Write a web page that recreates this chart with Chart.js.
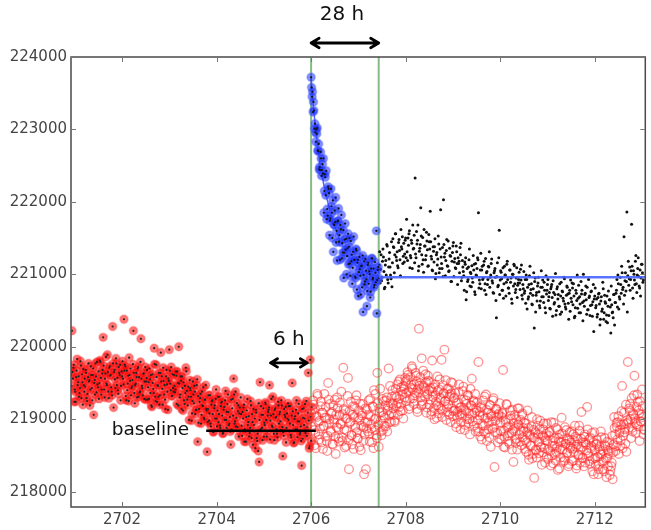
<!DOCTYPE html>
<html>
<head>
<meta charset="utf-8">
<script src="https://cdn.jsdelivr.net/npm/chart.js@4/dist/chart.umd.min.js"></script>
<style>
html,body{margin:0;padding:0;background:#fff;}
canvas{display:block;}
</style>
</head>
<body>
<canvas id="c" width="651" height="530"></canvas>
<script>
// ---------- data ----------
const sampleStep = 0.02;               // days between samples in each run
const xTicks = [2702, 2704, 2706, 2708, 2710, 2712];
const yTicks = [218000, 219000, 220000, 221000, 222000, 223000, 224000];
const xRange = [2700.92, 2713.07];
const yRange = [217788, 224000];

// red filled circles (before the event) — two interleaved sample runs
const redPreStart = 2700.92;
const redPreValues = [
219620,220220,219560,219750,219410,219240,219670,219470,219590,219360,
219800,219290,219510,219690,219380,219450,219640,219250,219580,219520,
219190,219730,219430,219610,219060,219540,219770,219370,219480,219660,
219500,219790,219340,219630,220130,219410,219560,219860,219470,219650,
219290,219730,219610,219380,220280,219160,219680,219430,219770,219570,
219350,219640,219750,219460,219590,
219560,220380,219750,219320,219670,219490,219250,219610,219700,219430,
219540,220220,219360,219470,219640,219300,219720,219580,219380,220110,
219460,219330,219630,219520,219270,
219570,219270,219510,219700,219360,219190,219620,219420,219980,219310,
219750,219240,219460,219640,219330,219920,219590,219200,219530,219470,
219140,219680,219380,219560,219960,219490,219720,219320,219430,219610,
219370,219660,219210,219500,220000,
219300,219590,219140,219430,219510,219210,219360,219660,219270,219450,
218990,219430,219310,219080,219520,219220,219380,219130,219470,218690,
218950,219240,219350,219060,219190,219440,219000,219270,219140,218550,
219140,218980,219330,218900,219250,219070,218830,219190,219280,219010,
219120,218960,219310,218880,219230,219050,218810,219170,219260,218990,
219100,219340,218920,219030,218650,218860,219280,219560,218940,219380,
219020,218890,219190,219080,218830,
219070,218770,219010,219200,218860,218690,219120,218920,219040,218810,
219250,218740,218960,219140,218830,218600,219090,218700,218560,218410,
219510,219180,218880,219060,218760,
218920,219210,218760,219050,219130,219470,218980,219280,218890,219070,
218710,219150,219030,218800,219240,218940,219100,218850,219190,218490,
218770,219060,219170,218880,219010,
218990,218830,219180,218750,219500,218920,218680,219040,219130,218860,
218970,219210,218790,218900,218360,218730,219150,219010,218810,219250,
218890,219640,218600,219820,218700
];
const redPreStartB = 2700.93;
const redPreValuesB = [
219460,219650,219710,219240,219380,219580,219830,219510,219310,219430,
219740,219620,219200,219470,219560,219680,219290,219350,219770,219540,
219410,219610,219260,219700,219500,219340,219590,219790,219440,219280,
219810,219570,219410,219680,219740,219300,219630,219490,219890,219380,
219710,219600,219440,219330,219770,219650,219550,219840,219470,219400,
219720,219610,219260,219660,219800,
219480,219670,219730,219260,219400,219600,219850,219530,219330,219450,
219760,219640,219220,219490,219580,219700,219310,219370,219790,219560,
219430,219630,219280,219720,219520,
219680,219440,219280,219550,219610,219170,219500,219360,219760,219250,
219580,219470,219310,219200,219640,219520,219420,219710,219340,219270,
219590,219480,219130,219530,219670,219400,219320,219620,219380,219460,
219410,219600,219660,219190,219490,
219340,219530,219590,219120,219260,219460,219710,219390,219190,219310,
219540,219400,218980,219250,219340,219460,219070,219130,219550,219320,
219140,219290,218940,219380,219180,219020,219270,219470,219120,218960,
219330,219080,218940,219200,219260,218820,219150,219010,219410,218900,
219310,219070,218910,219180,219240,218800,219130,218990,219390,218880,
219210,219100,218940,218830,219270,219150,219050,219340,218970,218900,
219220,219110,218760,219160,219300,
218910,219100,219160,218690,218830,219030,219280,218960,218760,218880,
219190,219070,218650,218920,219010,219130,218740,218800,219220,218990,
218860,219060,218710,219150,218950,
219230,218990,218830,219100,219160,218720,219050,218910,219310,218800,
219130,219020,218860,218750,219190,219070,218970,219260,218890,218820,
219140,219030,218680,219080,219220,
219180,218940,218780,219050,219110,218670,219000,218860,219260,218750,
219080,218970,218810,218700,219140,219020,218920,219210,218840,218770,
219090,218980,218630,219030,219170
];

// blue circles (28 h after the event)
const blueStart = 2706.00;
const blueValues = [
223720,223450,223240,223260,223080,222830,222940,222710,222800,222480,
222690,222360,222520,222600,222150,222340,222430,221900,222210,222120,
221740,222180,221850,222020,221690,221880,222060,221600,221730,221910,
221540,221680,221820,221430,221610,221300,221700,221490,221250,221560,
221380,221150,221460,221270,221090,221520,221200,220950,221330,221160,
220700,221240,220980,221110,220820,220480,221180,220900,221050,220560,
221130,220870,221000,220760,221220,220930,221080,220850,221020,221600,
220920,221100
];
const blueStartB = 2706.01;
const blueValuesB = [
223580,223520,223380,223010,222960,223000,223020,222700,222450,222440,
222600,222440,222390,221850,222380,222090,221760,221810,222180,221540,
221770,221940,221500,221310,221680,221720,221440,221190,221740,221450,
221200,221620,221220,221300,220950,221480,221340,221000,221360,221140,
221500,220980,221180,220870,221310,221200,220970,221350,220790,221200,
221030,221070,220720,221120,221260,220990,220860,221210,220930,220770,
221160,221040,220680,221080,221220,220950,220820,221170,220890,220460,
221060,220950
];

// black dots (after the 28 h window)
const blackStart = 2707.44;
const blackValues = [
221130,220880,221270,220960,221350,221040,220820,221190,221410,220930,
221100,221300,220990,221450,221160,221380,221020,221560,221240,221310,
221090,221480,221200,221620,221350,221150,221430,221280,221500,221760,
221190,221400,221600,221260,221470,221080,221350,221540,222330,221230,
221420,221680,221110,221360,221920,221270,221510,221030,221390,221200,
221580,221340,221120,221450,221870,221250,221060,221380,221170,221490,
221010,221300,221210,221420,221080,221890,221150,221370,222030,221240,
220980,221330,221120,221460,221050,221260,220900,221180,221390,220970,
221220,221080,221310,220860,221150,221020,221270,220910,221190,221040,
220780,221140,220650,221080,220930,221200,220840,221010,221120,220890,
221060,220760,221150,220980,221230,221850,220920,221060,220800,221110,
220950,221180,220870,220720,221040,220930,221100,220820,220990,221210,
220880,220740,221050,220960,220400,221160,220850,221610,220920,221030,
220780,221090,220870,220990,220700,221140,220930,220810,221060,220890,
220660,221000,220840,221120,220750,220950,220680,220880,221030,220790,
220920,220710,220860,221040,220770,220600,220930,220820,220690,220980,
220740,220870,220580,220800,220260,220950,220710,220630,220880,220760,
220540,220820,220690,220920,220610,220780,220470,220730,220860,220640,
220750,220520,220830,220680,220910,220590,220720,220440,220800,220660,
220560,220870,220700,220480,220760,220630,220940,220550,220710,220820,
220600,220740,220490,220670,220880,220580,220700,220420,220780,220640,
220530,220850,220690,220470,220730,220610,221000,220560,220740,220650,
220820,220510,220680,220430,220760,220580,220620,220210,220700,220540,
220660,220450,220730,220590,220380,220690,220520,220800,220470,220620,
220350,220700,220560,220430,220650,220190,220580,220480,220720,220300,
220610,220780,220550,220870,220690,220960,220740,221020,220820,221520,
220910,220770,221860,220980,220850,221100,220930,221690,220810,221050,
220920,221180,220870,220990,221230,220840,221060,220950,221140,220890
];
const blackStartB = 2707.45;
const blackValuesB = [
221310,221070,220910,221180,221240,220800,221130,220990,221390,220880,
221210,221100,220940,220830,
221490,221370,221270,221560,221190,221120,221440,221330,220980,221380,
221520,221250,221170,221470,221230,
221310,221500,221560,221090,221230,221430,221680,221360,221160,221280,
221590,221470,221050,221320,221410,221530,221140,221200,221620,221390,
221260,221460,221110,221550,221350,
221450,221210,221050,221320,221380,220940,221270,221130,221530,221020,
221350,221240,221080,220970,221410,221290,221190,221480,221110,221040,
221360,221250,220900,221300,221440,221170,221090,221390,221150,221230,
221180,221370,221430,220960,221100,
220980,221170,221230,220760,220900,221100,221350,221030,220830,220950,
221260,221140,220720,220990,221080,221200,220810,220870,221290,221060,
220930,221130,220780,221220,221020,220860,221110,221310,220960,
221150,220910,220750,221020,221080,220640,220970,220830,221230,220720,
221050,220940,220780,220670,221110,220990,220890,221180,220810,220740,
221060,220950,220600,221000,221140,220870,220790,221090,220850,220930,
220880,221070,221130,220660,220800,
220740,220930,220990,220520,220660,220860,221110,220790,220590,220710,
221020,220900,220480,220750,220840,220960,220570,220630,221050,220820,
220690,220890,220540,220980,220780,
220930,220690,220530,220800,220860,220420,220750,220610,221010,220500,
220830,220720,220560,220450,220890,220770,220670,220960,220590,220520,
220840,220730,220380,220780,220920,
220620,220810,220870,220400,220540,220740,220990,220670,220470,220590,
220900,220780,220360,220630,220720,220840,220450,220510,220930,220700,
220570,220770,220420,220860,220660,
220810,220570,220410,220680,220740,220300,220630,220490,220890,220380,
220710,220600,220440,220330,220770,220650,220550,220840,220470,220400,
220720,220610,
220740,220930,220990,220520,220660,220860,221110,220790,220590,220710,
221020,220900,220480,
221180,220940,220780,221050,221110,220670,221000,220860,221260,220750,
221080,220970,220810,220700,221140,221020,220920
];

// red hollow circles (after the event)
const redPostStart = 2706.00;
const redPostValues = [
219080,218720,219260,218850,219140,218600,219030,219320,218790,218980,
219180,218680,219090,218900,219350,218760,219020,218560,219500,218940,
219210,218820,219100,218650,219000,219270,218520,218890,219150,218740,
219060,218930,219380,218700,219710,218860,219120,218630,219010,219570,
218310,218950,219240,218780,219060,218590,219170,218880,219330,218740,
219020,218620,219210,218910,219080,218700,218240,218960,218310,219130,
218830,219260,218690,219040,218870,219180,218600,219000,219350,218780,
219640,218920,219150,219420,218830,
219100,218850,219250,219020,218900,219300,219120,219700,218960,219220,
219080,219400,219150,218980,219330,219190,219480,219060,219280,219550,
219210,219380,219120,219460,219300,
219520,219250,219650,219380,219180,219580,219430,219700,219290,219480,
219360,219600,219140,219420,220250,219500,219300,219840,219210,219460,
219380,219620,219090,219340,219530,
219200,219430,219060,219810,219310,219150,219480,219240,219020,219390,
219170,219550,219280,219820,219120,219360,219960,219250,218990,219420,
219200,219060,219340,219510,219150,
219040,219290,219120,218940,219220,219100,219380,219060,218860,219170,
219050,219450,219130,218920,219260,219000,219330,219080,218790,219190,
219560,218970,219240,219090,218830,
219120,218880,219790,219050,218760,219180,218920,219260,218830,219010,
219340,218700,219090,218950,219200,218620,219040,218870,219290,218340,
218980,219140,218810,219060,218730,
218950,218720,219080,219680,218840,218610,218990,219200,218770,218900,
218660,219050,218810,219130,218410,218870,218720,219000,218580,218930,
219150,218690,218840,219060,218750,
218830,218590,218940,218680,219120,218510,218790,218640,218900,218460,
218750,218190,218820,218570,219000,218690,218530,218860,218620,218370,
218770,218940,218600,218710,218480,
218700,218450,218820,218560,218960,218630,218390,218740,218520,218880,
218610,218300,218690,218790,218470,219020,218580,218720,218430,218660,
218850,218540,218350,218710,218600,
218680,218420,218790,218550,218910,218620,218360,218730,218500,218840,
218590,219100,218470,218680,218760,218400,218650,219170,218530,218720,
218380,218600,218810,218450,218240,
218580,218370,218660,218480,218310,218620,218520,218750,218410,218560,
218280,218640,218460,218690,218350,218530,218230,218600,218400,218170,
218650,218880,218560,218950,218720,219040,218810,218630,218920,219460,
218770,219090,218860,219200,218940,
219790,218880,219120,219000,219290,218830,219060,219600,218950,219170,
219340,218900,219080,219250,218970,219410,219030,218860
];
const redPostStartB = 2706.01;
const redPostValuesB = [
218900,219130,219200,218640,218810,219050,219350,218960,218720,218870,
219240,219090,218590,218910,219020,219170,218700,218770,219270,219000,
218840,219080,218660,219190,218950,218760,219060,219300,218880,218690,
219230,218940,218750,219070,219140,218610,219010,218840,219320,218710,
219110,218970,218780,218650,219180,219030,218910,219260,218820,218730,
219120,218990,218570,219050,219210,218890,218790,219150,218870,218960,
219060,218800,219280,218930,218680,219170,219400,218850,219010,218740,
219220,218620,219090,218980,218780,
219280,219050,218910,219190,219260,218830,219180,219050,219460,218960,
219310,219210,219060,218960,219420,219310,219220,219520,219170,219110,
219440,219340,219010,219420,219570,
219360,219550,219610,219140,219280,219480,219730,219410,219210,219330,
219640,219520,219100,219370,219460,219580,219190,219250,219670,219440,
219310,219510,219160,219600,219400,
219510,219270,219110,219380,219440,219000,219330,219190,219590,219080,
219410,219300,219140,219030,219470,219350,219250,219540,219170,219100,
219420,219310,218960,219360,219500,
219110,219300,219360,218890,219030,219230,219480,219160,218960,219080,
219390,219270,218850,219120,219210,219330,218940,219000,219420,219190,
219060,219260,218910,219350,219150,
219230,218990,218830,219100,219160,218720,219050,218910,219310,218800,
219130,219020,218860,218750,219190,219070,218970,219260,218890,218820,
219140,219030,218680,219080,219220,
218840,219030,219090,218620,218760,218960,219210,218890,218690,218810,
219120,219000,218580,218850,218940,219060,218670,218730,219150,218920,
218790,218990,218640,219080,218880,
218950,218710,218550,218820,218880,218440,218770,218630,219030,218520,
218850,218740,218580,218470,218910,218790,218690,218980,218610,218540,
218860,218750,218400,218800,218940,
218580,218770,218830,218360,218500,218700,218950,218630,218430,218550,
218860,218740,218320,218590,218680,218800,218410,218470,218890,218660,
218530,218730,218380,218820,218620,
218830,218590,218430,218700,218760,218320,218650,218510,218910,218400,
218730,218620,218460,218350,218790,218670,218570,218860,218490,218420,
218740,218630,218280,218680,218820,
218460,218650,218710,218240,218380,218580,218830,218510,218310,218430,
218740,218620,218200,218470,218560,218680,218290,218350,218770,218540,
219030,218790,218630,218900,218960,218520,218850,218710,219110,218600,
218930,218820,218660,218550,218990,
218960,219150,219210,218740,218880,219080,219330,219010,218810,218930,
219240,219120,218700,218970,219060,219180,218790,218850
];

// exponential-recovery fit drawn under the blue points
const fitDays   = [2706.00, 2706.05, 2706.10, 2706.20, 2706.30, 2706.45, 2706.60, 2706.80, 2707.05, 2707.43];
const fitValues = [223700, 223300, 222980, 222470, 222130, 221760, 221480, 221230, 221060, 220980];

// reference lines / annotations
const eventDays = [2706.00, 2707.43];        // green vertical lines
const recoveredLevel = 220960;               // blue horizontal line
const recoveredSpan = [2707.43, 2713.10];
const baselineValue = 218840;                // black baseline
const baselineSpan = [2703.78, 2706.10];
const label28h = "28 h";
const label6h = "6 h";
const labelBaseline = "baseline";
const sixHourSpan = [2705.14, 2705.92];
const sixHourArrowValue = 219777;
const sixHourTextValue = 220096;
const baselineTextDay = 2703.42;

// ---------- build ----------
function series(start, vals){
  return vals.map((v,i)=>({x: +(start + i*sampleStep).toFixed(3), y: v}));
}
const redPre = series(redPreStart, redPreValues).concat(series(redPreStartB, redPreValuesB));
const blue = series(blueStart, blueValues).concat(series(blueStartB, blueValuesB));
const black = series(blackStart, blackValues).concat(series(blackStartB, blackValuesB));
const redPost = series(redPostStart, redPostValues).concat(series(redPostStartB, redPostValuesB));
const fit = fitDays.map((d,i)=>({x:d, y:fitValues[i]}));

function lineDS(data, color, width){
  return {data, showLine:true, borderColor:color, borderWidth:width, pointRadius:0, fill:false, tension:0};
}
function ptsDS(data, r, bg, bc, bw){
  return {data, showLine:false, pointRadius:r, pointHoverRadius:r, backgroundColor:bg, borderColor:bc, borderWidth:bw};
}

const datasets = [
  lineDS([{x:baselineSpan[0],y:baselineValue},{x:baselineSpan[1],y:baselineValue}], '#000', 2.5),
  lineDS([{x:recoveredSpan[0],y:recoveredLevel},{x:recoveredSpan[1],y:recoveredLevel}], 'rgba(70,100,255,0.9)', 2.5),
  ptsDS(blue, 1.1, '#111', '#111', 0),
  ptsDS(blue, 4.2, 'rgba(25,45,255,0.55)', 'rgba(90,110,255,0.3)', 1.5),
  lineDS(fit, 'rgba(60,80,255,0.9)', 1.5),
  ptsDS(black, 1.5, '#111', '#111', 0),
  ptsDS(redPost, 4.3, 'rgba(0,0,0,0)', 'rgba(255,40,40,0.5)', 1.3),
  ptsDS(redPre, 1.1, '#222', '#222', 0),
  ptsDS(redPre, 4.2, 'rgba(255,0,0,0.55)', 'rgba(255,80,80,0.3)', 1.5),
  lineDS([{x:eventDays[0],y:yRange[0]},{x:eventDays[0],y:yRange[1]}], 'rgba(120,180,120,0.9)', 2),
  lineDS([{x:eventDays[1],y:yRange[0]},{x:eventDays[1],y:yRange[1]}], 'rgba(120,180,120,0.9)', 2)
];

function arrow(ctx, x1, x2, y, lw, head){
  ctx.save();
  ctx.strokeStyle = '#000';
  ctx.lineWidth = lw;
  ctx.lineCap = 'round';
  ctx.lineJoin = 'round';
  ctx.beginPath();
  ctx.moveTo(x1, y); ctx.lineTo(x2, y);
  ctx.moveTo(x1 + head, y - head*0.6); ctx.lineTo(x1, y); ctx.lineTo(x1 + head, y + head*0.6);
  ctx.moveTo(x2 - head, y - head*0.6); ctx.lineTo(x2, y); ctx.lineTo(x2 - head, y + head*0.6);
  ctx.stroke();
  ctx.restore();
}

const framePlugin = {
  id: 'frame',
  afterDraw(chart){
    const {ctx, chartArea:a, scales:{x, y}} = chart;
    ctx.save();
    ctx.strokeStyle = '#4a4a4a';
    ctx.lineWidth = 1.5;
    ctx.strokeRect(a.left, a.top, a.right - a.left, a.bottom - a.top);
    ctx.lineWidth = 1;
    ctx.strokeStyle = '#777';
    ctx.beginPath();
    xTicks.forEach(v => {
      const p = Math.round(x.getPixelForValue(v)) + 0.5;
      ctx.moveTo(p, a.bottom); ctx.lineTo(p, a.bottom - 5);
      ctx.moveTo(p, a.top); ctx.lineTo(p, a.top + 5);
    });
    yTicks.forEach(v => {
      const p = Math.round(y.getPixelForValue(v)) + 0.5;
      ctx.moveTo(a.left, p); ctx.lineTo(a.left + 5, p);
      ctx.moveTo(a.right, p); ctx.lineTo(a.right - 5, p);
    });
    ctx.stroke();

    // annotations
    ctx.fillStyle = '#111';
    ctx.textBaseline = 'middle';
    ctx.textAlign = 'center';
    ctx.font = '20px "DejaVu Sans"';
    const e0 = x.getPixelForValue(eventDays[0]);
    const e1 = x.getPixelForValue(eventDays[1]);
    ctx.fillText(label28h, (e0 + e1)/2 - 3, a.top - 42);
    arrow(ctx, e0, e1, a.top - 14, 2.8, 8);

    const s0 = x.getPixelForValue(sixHourSpan[0]);
    const s1 = x.getPixelForValue(sixHourSpan[1]);
    ctx.fillText(label6h, (s0 + s1)/2, y.getPixelForValue(sixHourTextValue));
    arrow(ctx, s0, s1, y.getPixelForValue(sixHourArrowValue), 2.8, 7);

    ctx.textAlign = 'right';
    ctx.font = '18.5px "DejaVu Sans"';
    ctx.fillText(labelBaseline, x.getPixelForValue(baselineTextDay), y.getPixelForValue(baselineValue) - 1);
    ctx.restore();
  }
};

new Chart(document.getElementById('c'), {
  type: 'scatter',
  data: { datasets },
  options: {
    responsive: false,
    devicePixelRatio: 1,
    animation: false,
    events: [],
    layout: { padding: { top: 57, right: 1, left: 0, bottom: 0 } },
    plugins: { legend: { display: false }, tooltip: { enabled: false } },
    scales: {
      x: {
        type: 'linear', min: xRange[0], max: xRange[1],
        grid: { display: false, drawTicks: false },
        border: { display: false },
        afterBuildTicks: s => { s.ticks = xTicks.map(v => ({value: v})); },
        afterFit: s => { s.height = 23; },
        ticks: { padding: 4, color: '#444', font: { family: 'DejaVu Sans', size: 15 }, maxRotation: 0,
                 callback: v => String(v) }
      },
      y: {
        type: 'linear', min: yRange[0], max: yRange[1],
        grid: { display: false, drawTicks: false },
        border: { display: false },
        afterBuildTicks: s => { s.ticks = yTicks.map(v => ({value: v})); },
        afterFit: s => { s.width = 71; },
        ticks: { padding: 4, color: '#444', font: { family: 'DejaVu Sans', size: 15 },
                 callback: v => String(v) }
      }
    }
  },
  plugins: [framePlugin]
});
</script>
</body>
</html>
